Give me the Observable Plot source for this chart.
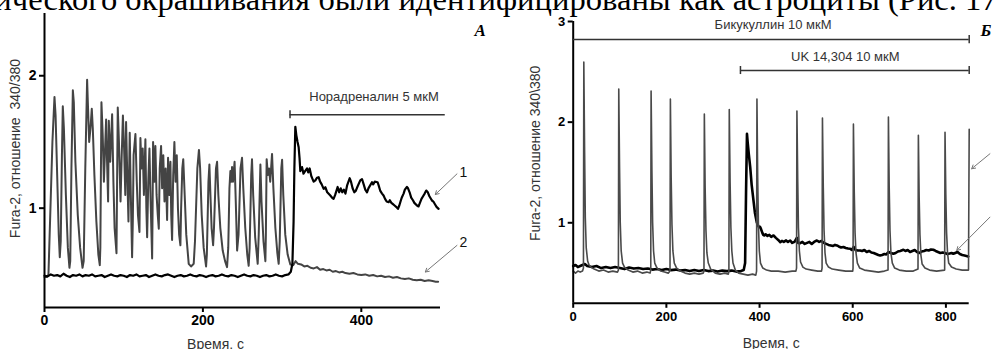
<!DOCTYPE html>
<html><head><meta charset="utf-8">
<script src="https://cdn.jsdelivr.net/npm/d3@7"></script>
<script src="https://cdn.jsdelivr.net/npm/@observablehq/plot@0.6"></script>
<style>
html,body{margin:0;padding:0;background:#fff;overflow:hidden}
#wrap{position:relative;width:993px;height:349px;overflow:hidden;background:#fff}
#a{position:absolute;left:0;top:0}
#b{position:absolute;left:500px;top:0}
#top{position:absolute;right:-15.5px;top:-17.5px;font-family:"Liberation Serif","Times New Roman",serif;font-size:32.6px;line-height:32.6px;white-space:nowrap;color:#000;z-index:5}
</style></head><body>
<div id="wrap"><div id="a"></div><div id="b"></div><div id="top">иммуноцитохимического окрашивания были идентифицированы как астроциты (Рис. 17)</div></div>
<script>
// ---------- Panel A (time, s ; Fura-2 ratio) ----------
const grayA = [[0,0.48],[3,0.48],[5,0.5],[7,0.9],[10,1.5],[12.6,1.84],[14,1.7],[16,1.25],[18,0.8],[19.3,0.63],[20.5,0.75],[22,1.4],[23.1,1.77],[24.5,1.6],[27,1.1],[29.5,0.7],[31.5,0.55],[32.5,0.6],[34,1.3],[35.8,1.89],[37,1.8],[39,1.35],[42,0.95],[45,0.7],[48,0.55],[49.5,0.6],[51.5,1.3],[53.8,1.97],[55,1.75],[56.4,1.5],[58,1.6],[59.7,1.75],[61,1.6],[63,1.25],[65.5,0.9],[68,0.65],[69.8,0.57],[70.5,0.7],[71.9,1.8],[73.5,1.55],[75,1.2],[76.2,1.4],[77.8,1.67],[79,1.35],[80.3,1.05],[81.2,1.66],[83,1.35],[85.4,1.71],[87,1.2],[88.5,0.85],[90.9,0.66],[91.8,1.3],[92.5,1.76],[94,1.5],[96,1.05],[97.5,1.4],[99,1.7],[100.5,1.45],[102,1.1],[103,1.65],[104.5,1.25],[106,0.9],[107.6,1.57],[109,1.1],[110.6,0.63],[111.5,0.9],[112.5,1.4],[114.8,1.56],[116.5,1.2],[118,0.95],[119.9,0.82],[121.1,1.53],[122.5,1.3],[124,1.45],[125.5,1.1],[127.4,1.52],[128.6,1.0],[129.6,0.78],[131,1.2],[132.5,1.45],[134,1.05],[135.9,0.62],[136.5,1.0],[137.1,1.5],[138.8,1.2],[140,1.47],[141.5,1.1],[143,0.95],[144.3,0.845],[145.5,1.3],[147.2,1.47],[148.5,1.15],[150,1.4],[151.5,1.05],[153,1.3],[154.8,0.91],[156,1.38],[157.5,1.1],[159,1.35],[160,0.95],[161.1,0.76],[162.5,1.25],[164,1.5],[165.5,1.2],[167,1.4],[168.5,1.0],[170,0.8],[171.6,0.72],[172.5,1.0],[174,1.3],[175.2,1.37],[177,1.1],[179,0.8],[182.1,0.58],[185,0.56],[188.4,0.58],[190,0.75],[193,1.3],[195,1.44],[196.5,1.3],[198.5,0.95],[201,0.7],[204,0.56],[205,0.65],[207,1.2],[208.2,1.33],[209.5,1.1],[211,0.85],[212.9,0.72],[214,0.85],[216.5,1.3],[217.9,1.35],[219.5,1.1],[222,0.85],[225,0.68],[228,0.6],[230.5,0.555],[232,0.7],[233.5,1.15],[234.7,1.28],[235.8,1.2],[236.8,1.31],[238,1.2],[240,1.35],[241.5,1.05],[243.2,0.68],[245,0.8],[247.5,1.3],[249.4,1.38],[251,1.15],[253.5,0.85],[256,0.65],[257.8,0.565],[259,0.7],[261,1.25],[262,1.37],[263.5,1.1],[266,0.78],[269.2,0.58],[270.5,0.8],[272.6,1.33],[274,1.05],[276.5,0.75],[278.9,0.6],[279.5,0.8],[280.5,1.37],[282,1.25],[283.5,1.3],[285,1.2],[287.3,1.41],[289,1.15],[291.5,0.85],[294,0.66],[295.7,0.58],[297,0.75],[299,1.3],[300,1.365],[301.5,1.1],[304,0.8],[307,0.65],[310.4,0.575],[314,0.57],[317,0.6],[320,0.58],[324,0.575],[328,0.56],[332,0.565],[336,0.55],[340,0.545],[344,0.555],[348,0.535],[352,0.54],[356,0.53],[360,0.535],[364,0.52],[368,0.525],[372,0.515],[376,0.52],[380,0.51],[385,0.505],[390,0.51],[395,0.5],[400,0.495],[405,0.5],[410,0.49],[415,0.495],[420,0.485],[425,0.49],[430,0.48],[435,0.485],[440,0.475],[445,0.48],[450,0.47],[455,0.465],[460,0.47],[465,0.46],[470,0.455],[475,0.46],[480,0.45],[485,0.455],[490,0.45],[494,0.445],[497,0.445]];
const blackA = [[0,0.49],[4,0.485],[8,0.5],[12,0.49],[16,0.495],[20,0.485],[24,0.505],[28,0.49],[32,0.48],[36,0.495],[40,0.49],[44,0.5],[48,0.485],[52,0.495],[56,0.49],[60,0.5],[64,0.485],[68,0.49],[72,0.495],[76,0.48],[80,0.49],[84,0.5],[88,0.49],[92,0.485],[96,0.495],[100,0.49],[104,0.48],[108,0.495],[112,0.49],[116,0.5],[120,0.485],[124,0.49],[128,0.495],[132,0.48],[136,0.49],[140,0.5],[144,0.49],[148,0.485],[152,0.495],[156,0.5],[160,0.49],[164,0.48],[168,0.49],[172,0.495],[176,0.485],[180,0.49],[184,0.5],[188,0.49],[192,0.485],[196,0.495],[200,0.49],[204,0.48],[208,0.49],[212,0.495],[216,0.485],[220,0.49],[224,0.5],[228,0.49],[232,0.485],[236,0.495],[240,0.49],[244,0.48],[248,0.49],[252,0.5],[256,0.49],[260,0.485],[264,0.495],[268,0.49],[272,0.48],[276,0.49],[280,0.495],[284,0.485],[288,0.49],[292,0.5],[296,0.49],[300,0.485],[304,0.495],[308,0.5],[311,0.52],[313,0.58],[314.5,0.9],[315.5,1.3],[316.7,1.615],[318,1.55],[319.5,1.5],[320.9,1.46],[322,1.38],[323,1.28],[325.2,1.31],[327,1.26],[329,1.28],[331.5,1.3],[333,1.27],[334.8,1.3],[337,1.24],[339.8,1.2],[342,1.21],[344,1.23],[346.1,1.234],[348,1.2],[350,1.18],[352.5,1.146],[354.6,1.158],[357,1.12],[360.9,1.096],[363,1.08],[365,1.07],[367,1.1],[370.1,1.16],[372,1.12],[374,1.15],[376,1.12],[378,1.14],[380,1.11],[382,1.17],[385.3,1.226],[387,1.2],[389,1.15],[391.2,1.12],[393,1.13],[395,1.16],[398.7,1.21],[400.9,1.22],[403,1.18],[405,1.14],[407.2,1.12],[409,1.15],[411,1.17],[413.5,1.196],[415,1.18],[417,1.2],[420.6,1.196],[422,1.17],[424,1.13],[426.2,1.11],[428.1,1.096],[430,1.07],[432,1.05],[434.5,1.045],[436,1.06],[438,1.04],[440,1.03],[442,1.02],[444,1.01],[446.3,0.995],[448,1.02],[450,1.06],[451.3,1.083],[453.4,1.11],[455,1.14],[457.6,1.16],[459,1.15],[461,1.12],[463,1.08],[465.2,1.06],[467,1.04],[470.3,1.02],[472.3,1.013],[474,1.04],[476,1.07],[478,1.09],[480,1.11],[482,1.133],[484,1.12],[486,1.09],[489.2,1.058],[491,1.05],[493,1.03],[495,1.01],[497.6,0.995]];
const xTicksA = [0, 200, 400];
const yTicksA = [1, 2];
const barA = [{t1: 310, t2: 506, v: 1.706, text: "Норадреналин 5 мкМ", tx: 416, ty: 1.84}];
const barTicksA = [{t: 310, v: 1.706}];
const arrowsA = [{x1: 520.8, y1: 1.259, x2: 493.4, y2: 1.103}, {x1: 520.8, y1: 0.719, x2: 480.8, y2: 0.518}];
const traceLabelsA = [{t: 529, v: 1.27, text: "1"}, {t: 529, v: 0.74, text: "2"}];
const yLabelA = [{t: -36.6, v: 1.45, text: "Fura-2, отношение  340/380"}];
const xLabelA = [{t: 216, v: -0.03, text: "Время, с"}];
const panelA = [{t: 550, v: 2.34, text: "A"}];

// ---------- Panel B ----------
const grayB = [[0,0.52],[5,0.5],[10,0.52],[15,0.51],[20,0.52],[22,0.55],[22.8,2.596],[24.5,1.7],[26,1.05],[28,0.75],[31,0.62],[34,0.58],[38,0.56],[45,0.54],[55,0.52],[65,0.53],[75,0.51],[85,0.52],[95,0.51],[97,0.53],[97.8,2.33],[99.5,1.55],[101,1.0],[103,0.72],[106,0.6],[110,0.56],[118,0.53],[128,0.51],[138,0.52],[148,0.5],[158,0.51],[165,0.5],[166.5,0.53],[167.2,2.31],[169,1.5],[170.5,1.0],[172.5,0.72],[175,0.6],[180,0.55],[188,0.52],[196,0.51],[204,0.5],[207.8,0.52],[208.6,2.23],[210.3,1.45],[212,0.98],[214,0.72],[217,0.6],[222,0.55],[230,0.52],[240,0.5],[250,0.49],[260,0.5],[270,0.49],[279,0.5],[280.7,0.52],[281.5,2.08],[283.2,1.35],[285,0.92],[287,0.7],[290,0.6],[295,0.54],[305,0.5],[315,0.49],[325,0.5],[333,0.49],[334.2,0.52],[335,2.125],[336.8,1.4],[338.5,0.95],[340.5,0.72],[343,0.6],[348,0.53],[355,0.5],[365,0.49],[375,0.48],[385,0.49],[392,0.48],[393.6,0.52],[394.4,2.23],[396,1.45],[397.6,0.98],[399.5,0.72],[402,0.6],[407,0.55],[415,0.53],[425,0.52],[440,0.52],[455,0.51],[470,0.52],[478,0.52],[479.4,0.55],[480.2,2.11],[482,1.4],[483.5,0.95],[485.5,0.72],[488,0.61],[493,0.56],[500,0.54],[512,0.53],[525,0.52],[533,0.52],[534.2,0.55],[535,2.04],[536.8,1.35],[538.4,0.93],[540.5,0.7],[543,0.6],[548,0.56],[556,0.54],[570,0.53],[585,0.52],[600,0.52],[600.7,0.55],[601.5,1.98],[603.3,1.3],[605,0.9],[607,0.7],[610,0.6],[615,0.55],[625,0.53],[640,0.52],[655,0.51],[668,0.52],[675.8,0.53],[676.6,2.05],[678.3,1.35],[680,0.92],[682,0.7],[685,0.6],[690,0.55],[700,0.53],[715,0.52],[730,0.52],[740.1,0.54],[740.9,1.87],[742.6,1.25],[744.3,0.88],[746.3,0.68],[749,0.59],[755,0.55],[765,0.53],[780,0.52],[797.3,0.53],[798.1,1.9],[799.8,1.28],[801.5,0.9],[803.5,0.7],[806,0.6],[812,0.56],[822,0.54],[835,0.53],[848.5,0.53],[849.2,1.2],[850,1.93]];
const blackB = [[0,0.57],[5,0.58],[10,0.56],[15,0.57],[20,0.58],[25,0.59],[30,0.57],[40,0.56],[50,0.57],[60,0.55],[70,0.56],[80,0.55],[90,0.56],[100,0.55],[110,0.54],[120,0.555],[130,0.545],[140,0.55],[150,0.54],[160,0.545],[170,0.535],[180,0.54],[190,0.53],[200,0.54],[210,0.53],[220,0.535],[230,0.525],[240,0.53],[250,0.52],[260,0.53],[270,0.52],[280,0.53],[290,0.52],[300,0.525],[310,0.515],[320,0.525],[330,0.52],[340,0.525],[350,0.515],[360,0.52],[366,0.53],[369,0.6],[371,1.3],[373,1.884],[374.5,1.8],[377,1.68],[380,1.55],[383,1.38],[387,1.22],[390,1.1],[394,1.006],[397,0.97],[399,0.956],[401,0.96],[403,0.94],[406,0.9],[408,0.88],[410,0.874],[413,0.885],[417,0.87],[421,0.88],[425,0.86],[430,0.874],[435,0.85],[440,0.83],[444.4,0.807],[448,0.82],[452,0.81],[457,0.825],[461,0.81],[465.8,0.824],[470,0.8],[475,0.81],[480,0.85],[483,0.8],[487.2,0.797],[492,0.81],[497,0.79],[502,0.8],[507,0.81],[512,0.79],[517,0.81],[523,0.824],[528,0.81],[533,0.82],[538,0.8],[543,0.79],[548,0.78],[553,0.775],[558,0.77],[562,0.78],[566,0.775],[570,0.765],[575,0.755],[580,0.76],[585,0.75],[590,0.745],[594.4,0.742],[598,0.73],[602,0.76],[606,0.73],[611,0.725],[615.9,0.725],[620,0.72],[625,0.73],[630,0.71],[635,0.72],[640,0.705],[645,0.7],[650,0.69],[655,0.68],[658.8,0.675],[663,0.68],[668,0.69],[672,0.685],[677,0.71],[682,0.7],[687.2,0.692],[692,0.7],[697,0.715],[702,0.72],[708.7,0.732],[713,0.72],[718,0.73],[723,0.71],[728,0.72],[733,0.73],[738,0.71],[743,0.7],[748,0.715],[753,0.72],[758,0.73],[763,0.725],[768,0.735],[773,0.732],[778,0.72],[783,0.71],[788,0.7],[793,0.705],[798,0.7],[803,0.69],[808,0.695],[812,0.7],[815.9,0.692],[820,0.7],[825,0.71],[830,0.69],[835,0.68],[840,0.675],[844,0.67],[848,0.665]];
const xTicksB = [0, 200, 400, 600, 800];
const yTicksB = [1, 2, 3];
const barsB = [
  {t1: 0, t2: 850, v: 2.82, text: "Бикукуллин 10 мкМ", tx: 429, ty: 2.97},
  {t1: 359, t2: 850, v: 2.513, text: "UK 14,304 10 мкМ", tx: 584, ty: 2.645}
];
const barTicksB = [{t: 850, v: 2.82}, {t: 359, v: 2.513}, {t: 850, v: 2.513}];
const arrowsB = [{x1: 894.5, y1: 1.686, x2: 855.3, y2: 1.537}, {x1: 894.5, y1: 1.056, x2: 823.2, y2: 0.725}];
const yLabelB = [{t: -80.8, v: 1.69, text: "Fura-2, отношение 340\\380"}];
const xLabelB = [{t: 425, v: -0.2, text: "Время, с"}];
const panelB = [{t: 886, v: 2.91, text: "Б"}];

const pts = arr => arr.map(([t, v]) => ({t, v}));
const sans = "'Liberation Sans', Arial, sans-serif";
const serif = "'Liberation Serif', 'Times New Roman', serif";

const plotA = Plot.plot({
  width: 500, height: 349,
  marginLeft: 44, marginRight: 60, marginTop: 13, marginBottom: 42,
  style: {fontFamily: sans, background: "transparent", overflow: "visible", color: "#000"},
  x: {domain: [0, 500]},
  y: {domain: [0.25, 2.47]},
  marks: [
    Plot.line(pts(grayA), {x: "t", y: "v", stroke: "#444", strokeWidth: 2}),
    Plot.line(pts(blackA), {x: "t", y: "v", stroke: "#000", strokeWidth: 2.2}),
    Plot.ruleX([0], {strokeWidth: 2}),
    Plot.ruleY([0.25], {strokeWidth: 2}),
    Plot.axisX({ticks: xTicksA, tickSize: 5, tickPadding: 3, fontSize: 14, fontWeight: "bold", strokeWidth: 2, label: null, tickFormat: d => d}),
    Plot.axisY({ticks: yTicksA, tickSize: 5, tickPadding: 3, fontSize: 14, fontWeight: "bold", strokeWidth: 2, label: null, tickFormat: d => d}),
    Plot.ruleY(barA, {y: "v", x1: "t1", x2: "t2", stroke: "#333", strokeWidth: 1.5}),
    Plot.ruleX(barTicksA, {x: "t", y1: d => d.v - 0.03, y2: d => d.v + 0.03, stroke: "#333", strokeWidth: 1.5}),
    Plot.text(barA, {x: "tx", y: "ty", text: "text", fontSize: 13, fill: "#333"}),
    Plot.arrow(arrowsA, {x1: "x1", y1: "y1", x2: "x2", y2: "y2", stroke: "#777", strokeWidth: 1, headLength: 6}),
    Plot.text(traceLabelsA, {x: "t", y: "v", text: "text", fontSize: 14, fill: "#111"}),
    Plot.text(yLabelA, {x: "t", y: "v", text: "text", rotate: -90, fontSize: 14, fill: "#333"}),
    Plot.text(xLabelA, {x: "t", y: "v", text: "text", fontSize: 14, fill: "#333"}),
    Plot.text(panelA, {x: "t", y: "v", text: "text", fontSize: 17, fontWeight: "bold", fontStyle: "italic", fontFamily: serif, fill: "#000"})
  ]
});
document.getElementById("a").appendChild(plotA);

const plotB = Plot.plot({
  width: 493, height: 349,
  marginLeft: 72.7, marginRight: 24.3, marginTop: 21, marginBottom: 46.2,
  style: {fontFamily: sans, background: "transparent", overflow: "visible", color: "#000"},
  x: {domain: [0, 850]},
  y: {domain: [0.2, 3]},
  marks: [
    Plot.line(pts(blackB), {x: "t", y: "v", stroke: "#000", strokeWidth: 2.6}),
    Plot.line(pts(grayB), {x: "t", y: "v", stroke: "#4a4a4a", strokeWidth: 1.6}),
    Plot.ruleX([0], {strokeWidth: 2}),
    Plot.ruleY([0.2], {strokeWidth: 2}),
    Plot.axisX({ticks: xTicksB, tickSize: 5, tickPadding: 3, fontSize: 13, fontWeight: "bold", strokeWidth: 2, label: null, tickFormat: d => d}),
    Plot.axisY({ticks: yTicksB, tickSize: 5, tickPadding: 3, fontSize: 13, fontWeight: "bold", strokeWidth: 2, label: null, tickFormat: d => d}),
    Plot.ruleY(barsB, {y: "v", x1: "t1", x2: "t2", stroke: "#333", strokeWidth: 1.5}),
    Plot.ruleX(barTicksB, {x: "t", y1: d => d.v - 0.04, y2: d => d.v + 0.04, stroke: "#333", strokeWidth: 1.5}),
    Plot.text(barsB, {x: "tx", y: "ty", text: "text", fontSize: 13, fill: "#333"}),
    Plot.arrow(arrowsB, {x1: "x1", y1: "y1", x2: "x2", y2: "y2", stroke: "#777", strokeWidth: 1, headLength: 6}),
    Plot.text(yLabelB, {x: "t", y: "v", text: "text", rotate: -90, fontSize: 14, fill: "#333"}),
    Plot.text(xLabelB, {x: "t", y: "v", text: "text", fontSize: 14, fill: "#333"}),
    Plot.text(panelB, {x: "t", y: "v", text: "text", fontSize: 17, fontWeight: "bold", fontStyle: "italic", fontFamily: serif, fill: "#000"})
  ]
});
document.getElementById("b").appendChild(plotB);
</script>
</body></html>
